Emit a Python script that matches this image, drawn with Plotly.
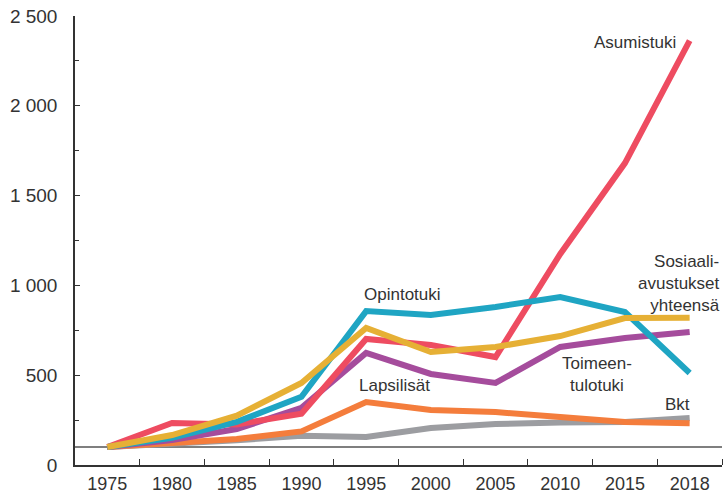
import plotly.graph_objects as go

years = ["1975", "1980", "1985", "1990", "1995", "2000", "2005", "2010", "2015", "2018"]
asumistuki = [100, 234, 226, 285, 702, 668, 601, 1175, 1681, 2363]
opintotuki = [100, 152, 240, 380, 857, 835, 880, 935, 852, 512]
sosiaaliavustukset = [100, 167, 275, 457, 763, 629, 657, 718, 818, 820]
toimeentulotuki = [100, 139, 200, 318, 624, 507, 457, 657, 707, 740]
lapsilisat = [100, 126, 145, 187, 351, 306, 295, 267, 239, 232]
bkt = [100, 115, 138, 163, 156, 206, 228, 236, 239, 262]

series = [
    ("Bkt", bkt, "#9C9DA1"),
    ("Lapsilisät", lapsilisat, "#F47D3C"),
    ("Toimeentulotuki", toimeentulotuki, "#A54C9C"),
    ("Asumistuki", asumistuki, "#EE4C61"),
    ("Opintotuki", opintotuki, "#1FA5C3"),
    ("Sosiaaliavustukset yhteensä", sosiaaliavustukset, "#E6B035"),
]

ytickvals = [0, 500, 1000, 1500, 2000, 2500]
yticktext = ["0", "500", "1 000", "1 500", "2 000", "2 500"]

xi = list(range(len(years)))

fig = go.Figure()
for name, vals, col in series:
    fig.add_trace(go.Scatter(x=xi, y=vals, mode="lines", name=name,
                             line=dict(color=col, width=6), showlegend=False))

font = "Liberation Sans, Arial, sans-serif"
tc = "#333333"
fig.add_shape(type="line", xref="paper", x0=0, x1=1, yref="y", y0=100, y1=100,
              line=dict(color="#555555", width=1.5), layer="below")

af = dict(family=font, size=17, color=tc)
fig.add_annotation(x=9, y=2350, text="Asumistuki", showarrow=False, xanchor="right", xshift=-12, font=af)
fig.add_annotation(x=4, y=950, text="Opintotuki", showarrow=False, xanchor="left", xshift=-4, font=af)
fig.add_annotation(x=4, y=440, text="Lapsilisät", showarrow=False, xanchor="left", xshift=-9, font=af)
fig.add_annotation(x=1, xref="paper", y=1010, text="Sosiaali-<br>avustukset<br>yhteensä", showarrow=False,
                   xanchor="right", align="right", font=af)
fig.add_annotation(x=7, y=505, text="Toimeen-<br>tulotuki", showarrow=False, xanchor="center",
                   align="center", xshift=37, font=af)
fig.add_annotation(x=9, y=335, text="Bkt", showarrow=False, xanchor="right", xshift=2, font=af)

fig.update_layout(
    width=727, height=496,
    margin=dict(l=75, r=5, t=16, b=31),
    paper_bgcolor="white", plot_bgcolor="white",
    font=dict(family=font, size=19, color=tc),
    xaxis=dict(range=[-0.5, 9.5], tickvals=xi, ticktext=years, showline=True, linecolor="#333333",
               linewidth=1.5, ticks="", showgrid=False, zeroline=False, automargin=False,
               minor=dict(tickvals=[i + 0.5 for i in xi], ticks="inside", ticklen=6, tickcolor="#333333"),
               tickfont=dict(size=18, color=tc), ticklabelstandoff=2),
    yaxis=dict(range=[0, 2500], tickvals=ytickvals, ticktext=yticktext, showline=True,
               linecolor="#333333", linewidth=1.5, ticks="inside", ticklen=5, tickcolor="#333333",
               minor=dict(tickvals=[250, 750, 1250, 1750, 2250], ticks="inside", ticklen=4, tickcolor="#333333"),
               showgrid=False, zeroline=False, automargin=False, ticklabelstandoff=12,
               tickfont=dict(size=19, color=tc)),
)

fig.write_html("out.html", config={"displayModeBar": False},
               post_script="document.body.style.margin='0';document.body.style.overflow='hidden';")
